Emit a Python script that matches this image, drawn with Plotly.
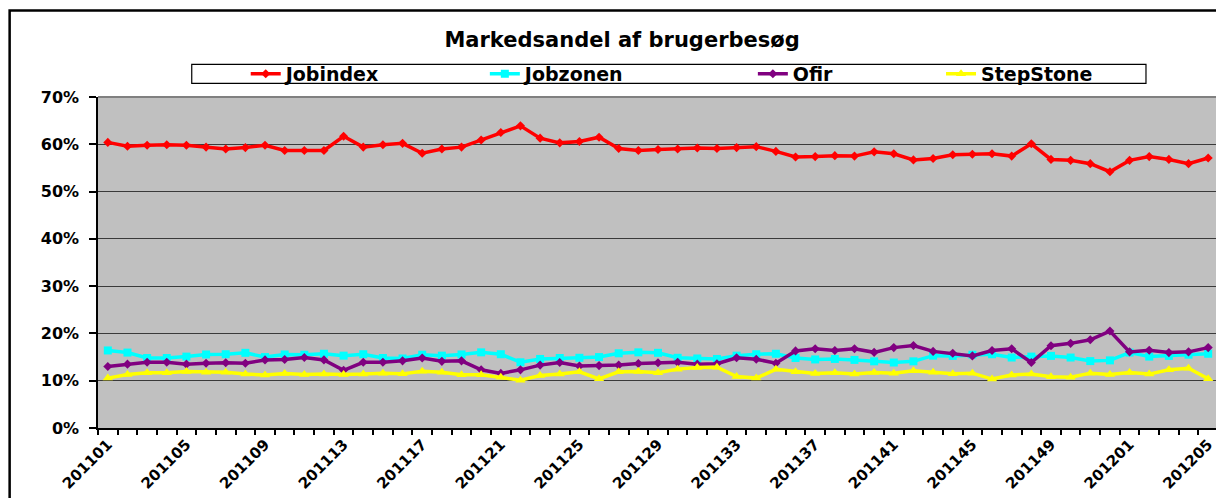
import plotly.graph_objects as go

weeks = [
    "201101", "201102", "201103", "201104", "201105", "201106", "201107", "201108",
    "201109", "201110", "201111", "201112", "201113", "201114", "201115", "201116",
    "201117", "201118", "201119", "201120", "201121", "201122", "201123", "201124",
    "201125", "201126", "201127", "201128", "201129", "201130", "201131", "201132",
    "201133", "201134", "201135", "201136", "201137", "201138", "201139", "201140",
    "201141", "201142", "201143", "201144", "201145", "201146", "201147", "201148",
    "201149", "201150", "201151", "201152", "201201", "201202", "201203", "201204",
    "201205",
]
tick_labels = ["201101", "201105", "201109", "201113", "201117", "201121", "201125",
               "201129", "201133", "201137", "201141", "201145", "201149", "201201",
               "201205"]

jobindex = [60.4, 59.6, 59.8, 59.9, 59.8, 59.4, 59.0, 59.3, 59.8, 58.7, 58.7, 58.7,
            61.7, 59.4, 59.9, 60.2, 58.1, 59.0, 59.4, 60.9, 62.5, 63.9, 61.3, 60.3,
            60.6, 61.5, 59.1, 58.7, 58.9, 59.0, 59.2, 59.1, 59.3, 59.5, 58.5, 57.3,
            57.4, 57.6, 57.5, 58.4, 58.0, 56.7, 57.0, 57.8, 57.9, 58.0, 57.5, 60.1,
            56.8, 56.6, 55.9, 54.2, 56.6, 57.4, 56.8, 55.9, 57.1]
jobzonen = [16.4, 15.95, 14.8, 14.8, 15.1, 15.55, 15.6, 15.9, 15.0, 15.55, 15.5, 15.7,
            15.3, 15.6, 14.8, 14.7, 15.5, 15.3, 15.55, 16.0, 15.6, 13.9, 14.6, 14.8,
            14.85, 15.0, 15.8, 16.0, 15.9, 14.85, 14.7, 14.6, 15.3, 15.6, 15.7, 14.8,
            14.5, 14.6, 14.4, 14.1, 13.85, 14.1, 15.3, 15.25, 15.5, 15.6, 14.9, 15.1,
            15.25, 14.9, 14.15, 14.3, 15.95, 15.1, 15.25, 15.5, 15.7]
ofir = [13.0, 13.5, 13.9, 13.9, 13.5, 13.7, 13.8, 13.7, 14.4, 14.5, 14.9, 14.4,
        12.2, 13.9, 13.9, 14.2, 14.8, 14.1, 14.2, 12.3, 11.55, 12.3, 13.3, 13.85,
        13.1, 13.2, 13.3, 13.65, 13.8, 13.9, 13.5, 13.6, 14.85, 14.55, 13.7, 16.3,
        16.75, 16.4, 16.75, 16.0, 17.0, 17.45, 16.2, 15.8, 15.25, 16.4, 16.75, 13.85,
        17.4, 17.9, 18.65, 20.5, 16.1, 16.45, 15.95, 16.1, 17.0]
stepstone = [10.55, 11.3, 11.7, 11.7, 11.95, 11.8, 11.8, 11.4, 11.2, 11.55, 11.3, 11.4,
             11.3, 11.4, 11.6, 11.45, 12.0, 11.8, 11.25, 11.25, 10.75, 10.1, 11.1, 11.4,
             11.9, 10.4, 11.9, 11.95, 11.7, 12.45, 12.8, 12.85, 10.9, 10.55, 12.4, 11.9,
             11.55, 11.7, 11.4, 11.75, 11.6, 12.1, 11.8, 11.45, 11.6, 10.35, 11.2, 11.4,
             10.85, 10.75, 11.6, 11.3, 11.75, 11.4, 12.3, 12.65, 10.4]

series_names = ["Jobindex", "Jobzonen", "Ofir", "StepStone"]
series_values = [jobindex, jobzonen, ofir, stepstone]
colors = ["#FF0000", "#00FFFF", "#800080", "#FFFF00"]
symbols = ["diamond", "square", "diamond", "triangle-up"]
marker_sizes = [7, 8, 7, 9]
legend_ids = ["legend", "legend2", "legend3", "legend4"]
legend_x = [0.1319, 0.3454, 0.5847, 0.7527]

FONT = "DejaVu Sans"

fig = go.Figure()
for name, vals, col, sym, ms, lg in zip(series_names, series_values, colors, symbols,
                                         marker_sizes, legend_ids):
    fig.add_trace(go.Scatter(
        x=weeks, y=vals, name=name, mode="lines+markers",
        line=dict(color=col, width=3.5),
        marker=dict(symbol=sym, size=ms, color=col),
        legend=lg,
    ))

ticktext = [w if w in tick_labels else "" for w in weeks]

layout_legends = {}
for lg, lx in zip(legend_ids, legend_x):
    layout_legends[lg] = dict(
        x=lx, xanchor="left", y=1.070, yanchor="middle",
        orientation="h", bgcolor="rgba(0,0,0,0)", borderwidth=0,
        font=dict(family=FONT, size=19, color="black", weight="bold"),
    )

# page body has an 8px margin, so the figure is 8px smaller and shifted accordingly
fig.update_layout(
    width=1216, height=490,
    margin=dict(l=90, r=6, t=89, b=70, autoexpand=False),
    paper_bgcolor="white", plot_bgcolor="#C0C0C0",
    showlegend=True,
    title=dict(text="Markedsandel af brugerbesøg", x=0.505, xref="container",
               xanchor="center", y=0.9347, yref="container", yanchor="middle",
               font=dict(family=FONT, size=21, color="black", weight="bold")),
    **layout_legends,
)

fig.update_xaxes(
    type="category", range=[-0.5, 56.5], automargin=False,
    tickmode="array", tickvals=weeks, ticktext=ticktext,
    tickson="boundaries", ticks="outside", ticklen=5, tickwidth=1.5, tickcolor="black",
    tickangle=-45, showgrid=False,
    showline=True, linecolor="black", linewidth=1.5,
    tickfont=dict(family=FONT, size=15, color="black", weight="bold"),
)
fig.update_yaxes(
    range=[0, 70], dtick=10, ticksuffix="%", automargin=False,
    ticks="outside", ticklen=7, tickwidth=1.5, tickcolor="black",
    showgrid=True, gridcolor="#3a3a3a", gridwidth=1,
    showline=True, linecolor="black", linewidth=1.5,
    zeroline=False, ticklabelstandoff=7,
    tickfont=dict(family=FONT, size=16, color="black", weight="bold"),
)

# plot area border (top and right), legend frame, outer chart frame
fig.add_shape(type="line", xref="x domain", yref="y domain", x0=0, x1=1, y0=1, y1=1,
              line=dict(color="#808080", width=2), layer="above")
fig.add_shape(type="line", xref="x domain", yref="y domain", x0=1, x1=1, y0=0, y1=1,
              line=dict(color="#808080", width=2), layer="above")
fig.add_shape(type="rect", xref="paper", yref="paper",
              x0=0.0837, x1=0.9357, y0=1.0413, y1=1.0986,
              line=dict(color="black", width=1.2), fillcolor="rgba(0,0,0,0)")
fig.add_shape(type="rect", xref="paper", yref="paper",
              x0=-0.0789, x1=1.1, y0=-0.4, y1=1.2615,
              line=dict(color="black", width=2.5), fillcolor="rgba(0,0,0,0)")

fig.write_html("out.html")
